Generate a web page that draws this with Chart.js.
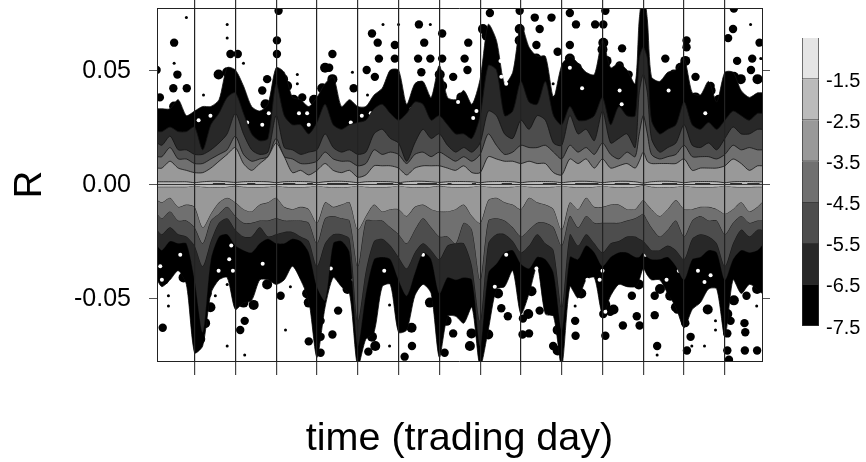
<!DOCTYPE html>
<html>
<head>
<meta charset="utf-8">
<script src="https://cdn.jsdelivr.net/npm/chart.js@4"></script>
<style>
  body { margin: 0; background: #fff; }
  #wrap { position: relative; width: 866px; height: 462px; overflow: hidden; }
  #plot { position: absolute; left: 0; top: 0; }
  #bar { position: absolute; left: 780px; top: 25px; }
</style>
</head>
<body>
<div id="wrap">
  <canvas id="plot" width="866" height="462"></canvas>
  <canvas id="bar" width="86" height="315"></canvas>
</div>
<script>
const days = [0.08,0.2,0.4,0.6,0.8,
  1,1.2,1.4,1.6,1.8, 2,2.2,2.4,2.6,2.8, 3,3.2,3.4,3.6,3.8, 4,4.2,4.4,4.6,4.8,
  5,5.2,5.4,5.6,5.8, 6,6.2,6.4,6.6,6.8, 7,7.2,7.4,7.6,7.8, 8,8.2,8.4,8.6,8.8,
  9,9.2,9.4,9.6,9.8, 10,10.2,10.4,10.6,10.8, 11,11.2,11.4,11.6,11.8,11.9, 12,12.1,12.2,12.4,12.6,12.8,
  13,13.2,13.4,13.6,13.8, 14,14.2,14.4,14.6,14.8,14.91];
const dayTicks = [1,2,3,4,5,6,7,8,9,10,11,12,13,14];
const rTicks = [-0.05,0,0.05];
const levelTicks = [-7.5,-6.5,-5.5,-4.5,-3.5,-2.5,-1.5];

// contour edges, R x 1000, one row per trading day
const top75 = [33,33,33,37,30, 32,34,34,37,51, 50,43,34,32,35, 51,49,38,37,34, 38,44,47,34,37,
  34,34,39,42,50, 50,35,44,45,38, 52,38,37,41,35, 46,70,63,44,49,
  70,60,56,56,38, 52,56,53,49,48, 63,51,53,50,44,72, 85,72,47,45,49,50,
  55,40,39,45,36, 49,49,41,38,40,40];
const bot75 = [42,45,42,38,44, 74,71,48,42,41, 55,52,51,42,42, 44,42,36,42,51, 76,54,41,45,48,
  80,68,65,45,44, 65,64,49,44,48, 76,58,58,61,54, 80,64,46,45,38,
  57,48,36,57,58, 80,45,50,42,41, 57,49,44,45,45,42, 37,40,42,42,48,54,
  63,55,52,46,46, 67,42,48,44,46,48];
const top65 = [23,23,25,23,23, 25,15,26,31,38, 40,31,22,19,20, 44,30,26,26,22, 27,35,26,24,26,
  27,28,33,35,31, 28,31,36,35,28, 30,26,22,22,20, 30,52,50,30,32,
  45,36,35,45,30, 26,34,28,28,30, 38,26,34,30,30,55, 60,55,28,22,24,26,
  36,26,24,27,24, 28,32,30,28,31,31];
const bot65 = [27,29,25,26,26, 42,65,33,23,22, 27,29,30,26,24, 26,26,24,25,30, 45,51,26,25,30,
  71,48,33,32,33, 42,49,39,30,33, 48,41,42,41,42, 71,39,35,30,29,
  35,37,32,33,39, 64,32,33,27,30, 36,32,30,30,32,32, 30,32,33,33,32,36,
  42,33,32,29,30, 42,33,29,30,29,27];
const top55 = [18,17,21,15,15, 13,13,15,18,22, 31,22,15,13,14, 30,16,15,13,14, 15,22,16,14,15,
  13,14,22,24,20, 18,10,18,24,20, 22,17,14,16,14, 18,32,30,22,20,
  28,24,30,28,18, 17,30,22,24,19, 32,18,20,22,16,40, 48,40,20,14,16,18,
  26,17,16,18,15, 20,25,22,22,24,24];
const bot55 = [20,22,19,22,23, 27,36,25,17,15, 20,23,23,19,23, 22,21,21,23,25, 36,26,22,22,24,
  60,38,25,24,27, 32,37,30,26,29, 33,27,26,26,36, 60,26,22,22,25,
  30,27,22,26,29, 54,22,27,22,26, 30,26,25,23,23,24, 25,27,29,29,27,29,
  33,24,22,23,26, 36,26,20,23,20,20];
const top45 = [12,12,16,11,11, 9,9,11,13,15, 21,13,10,11,12, 20,12,11,9,9, 10,14,11,10,10,
  8,9,15,13,14, 13,9,13,14,12, 14,12,10,12,10, 13,22,17,13,14,
  17,16,16,17,14, 11,17,14,16,13, 18,13,11,14,12,22, 30,22,13,11,12,13,
  17,12,12,12,11, 13,17,15,16,15,15];
const bot45 = [13,15,12,16,16, 19,26,16,13,10, 14,17,17,16,16, 15,16,16,16,17, 26,15,14,15,16,
  36,16,16,16,19, 22,26,20,15,19, 23,23,26,17,20, 42,16,15,16,19,
  23,20,17,17,19, 27,14,19,14,17, 17,17,17,16,15,14, 13,16,19,23,20,16,
  23,16,14,16,16, 22,17,14,17,16,16];
const top35 = [7,7,10,7,6, 5,5,7,10,13, 16,9,6,9,12, 18,12,5,6,4, 6,9,6,5,6,
  3,4,8,8,8, 7,4,7,8,8, 8,7,6,8,5, 5,12,11,10,10,
  9,10,9,9,5, 4,11,9,11,7, 11,7,8,9,7,10, 14,10,9,9,9,9,
  11,6,7,7,7, 8,11,9,6,8,8];
const bot35 = [7,8,6,10,9, 10,19,13,8,6, 8,11,12,9,8, 6,10,11,10,11, 17,8,10,9,8,
  20,14,9,12,11, 11,14,10,9,11, 12,12,11,9,14, 17,7,6,8,9,
  11,6,8,9,11, 20,8,11,6,10, 10,9,9,11,11,9, 7,9,11,14,11,7,
  11,11,10,10,11, 13,11,8,12,10,8];
const top25 = [1,1,1,1,1, 0.6,1,1.2,1.2,1, 0.7,1,1.1,1.1,1, 0.6,1,1.1,1.1,1, 0.6,1,1.2,1.2,1,
  0.6,1,1.1,1.1,1, 0.6,1,1.2,1.2,1, 0.7,1,1.1,1.1,1, 0.6,1,1.1,1.1,1,
  0.6,1,1.1,1.1,1, 0.6,1,1.2,1.2,1, 0.6,1,1.2,1.2,1,0.7, 0.4,0.7,1,1.2,1.2,1,
  0.6,1,1.1,1.1,1, 0.6,1,1.1,1.1,1,1];
const bot25 = [1.2,1.2,1.2,1.2,1.2, 0.7,1.2,1.4,1.4,1.2, 0.8,1.2,1.3,1.3,1.2, 0.7,1.2,1.3,1.3,1.2, 0.7,1.2,1.4,1.4,1.2,
  0.7,1.2,1.3,1.3,1.2, 0.7,1.2,1.4,1.4,1.2, 0.8,1.2,1.3,1.3,1.2, 0.7,1.2,1.3,1.3,1.2,
  0.7,1.2,1.3,1.3,1.2, 0.7,1.2,1.4,1.4,1.2, 0.7,1.2,1.4,1.4,1.2,0.8, 0.5,0.8,1.2,1.4,1.4,1.2,
  0.7,1.2,1.3,1.3,1.2, 0.7,1.2,1.3,1.3,1.2,1.2];

const dashFrom = [1.45,2.29,3.17,3.76,4.25,5.47,6,6.46,7.2,7.8,8.53,9.54,10.33,11.3,12.46,13.27,14.13,14.55];
const dashTo = [1.75,2.49,3.47,3.9,4.77,5.87,6.1,6.94,7.3,7.9,8.78,9.88,10.9,11.66,12.83,13.64,14.42,14.85];

// black islands out in the white
const bigDays = [0.5,0.58,0.48,0.81,0.15,0.07,1.88,2.06,2.78,2.66,3.02,3.02,3.06,3.64,4.38,4.3,4.9,
  5.35,5.49,5.91,5.52,5.91,5.22,5.42,6.5,6.63,6.48,6.78,6.56,7.07,7.07,7.34,7.71,7.62,7.69,8.24,8.97,9.34,9.75,9.46,9.38,9.9,
  10.2,10.35,10.82,11.02,11.07,10.2,11.48,11.42,11.64,12.54,13.06,13.06,13.28,13.65,14.2,14.08,14.22,14.85,14.67,14.3,14.64,
  0.22,2.23,2.12,3.11,3.8,4.38,4.52,4.09,4.09,4.09,6.33,6.15,7.34,9.79,9.04,9.05,8.52,8.68,9.2,9.46,7.13,5.26,
  10.33,10.34,11.07,11.5,11.91,11.84,11.72,12.28,12.34,11.19,11.02,12.83,12.28,13.07,13.16,13.03,14.48,14.5,14.49,14.79,14.06,14.1,14.53,14.06,14.14];
const bigR = [62,48,42,42,38,50,57,57,46,41,63,57,76,38,57,51,42,
  66,62,61,55,55,50,47,70,62,55,55,49,66,55,47,62,55,50,75,76,73,73,68,61,58,
  75,70,70,70,76,61,59.5,52,48,55,63,60,47,43,68,64,77,62,55,54,50,
  -63,-60,-64,-49,-69,-66,-55.5,-60,-67,-74,-71,-75.7,-65.5,-71,-66,-59,-54.5,-58,-65.5,-55.5,-74,-73.5,
  -60,-66.5,-66.5,-62,-62,-58,-49,-49,-71,-56,-57,-55,-57.5,-73,-67,-61,-61,-65,-73,-73,-73,-77,-49,-65.5,-60];
const smallDays = [0.8,0.5,1.8,1.8,1.22,2.2,3.52,3.52,4.87,5.62,6,6.78,5.24,14.63,14.88,
  0.36,0.36,1.8,1.51,1.8,2.23,3.23,3.35,5.78,5.78,10.33,12.34,13.5,13.77,13.77,13.19,14.78,9.79];
const smallR = [73,53,70,64,39,53,48,44,49,70,70,70,39,70,55,
  -49,-53.5,-44,-49,-71,-75,-64,-45,-53,-71,-53.5,-75,-71,-60,-64,-71,-53.5,44];

// lumps along the black edge
const lumpDays = [0.5,1.59,1.8,1.96,2.12,2.74,3.17,3.27,3.43,3.93,4.2,4.38,4.13,4.38,
  5.87,5.83,6,6.52,7.01,7.07,7.54,8.07,8.16,8.97,8.97,9.38,9.5,9.58,9.87,
  10.2,10.12,10.37,10.53,10.78,11,11.1,11.02,11.64,11.52,12.42,12.75,12.91,13.03,13.28,13.65,13.85,14.22,14.39,14.8,
  0.25,0.73,1.14,1.26,1.39,1.3,2.2,2.45,2.78,3.02,3.76,3.8,4.75,
  5.3,5.35,5.43,6.15,6.32,6.11,6.77,7.18,7.79,7.75,8.2,8.44,9.18,9.26,9.9,9.9,
  10.48,11.07,11.27,11.89,12.41,12.66,12.8,13.11,13.58,14.06,14.22,14.79];
const lumpR = [34,48,49,46,38,35,46,43,37,37,51,46,42,38,
  48,44,40,43,48,43,38,68,65,68,63,55,51,43,37,
  55,52,51,45,44,59,54,62,41,46,40,48,51,54,38,41,37,47,46,46,
  -42,-41,-68,-61,-54,-48,-52,-53,-44,-41,-48,-52,-46,
  -60,-67,-71,-57,-63,-53,-52,-60,-65.5,-71,-66,-48,-57,-47,-64,-73,
  -48,-53,-55,-44,-46,-49,-54,-49,-55,-57,-51,-46];

// white holes left in the black band
const holeDays = [1.1,1.39,2.29,2.66,2.82,3.56,3.76,3.8,4.83,0.65,0.16,0.2,1.9,1.85,1.59,1.94,2.67,4.34,4.9,
  5.1,5.32,6.32,7.46,7.83,7.91,8.5,8.6,8.52,8.64,6.6,6.6,5.65,8.36,8.64,9.48,9.56,9.38,
  10.2,10.5,11.42,13.52,12.62,11.47,10.63,11,10.93,12.05,12.57,12.83,12.87,13.34,13.65,13.5,11.07];
const holeR = [28,30,27,26,31,31,31,26,27,-31,-36,-42,-27,-33,-38,-38,-35,-37,-42,
  30,31,33,36,29,32,54,49,47,44,-27,-31,-38,-45,-31,-31,-31,-37,
  51,42,41,31,41,35,-42,-38,-42,-31,-42,-33,-38,-38,-40,-43,-56];

const bandColors = ['#000000','#282828','#4d4d4d','#707070','#999999','#bbbbbb','#e5e5e5'];

const toPoints = (xs, ys) => xs.map((x, i) => ({ x: x, y: ys[i] / 1000 }));

function band(upper, lower, color) {
  return [
    { data: toPoints(days, upper), backgroundColor: color, fill: '+1' },
    { data: toPoints(days, lower.map(v => -v)), fill: false }
  ];
}

function blobs(xs, ys, color, radius) {
  return { data: toPoints(xs, ys), showLine: false, pointRadius: radius, pointBackgroundColor: color, pointBorderWidth: 0 };
}

// tick labels should not push the plot area in
function noPadding(axis) {
  axis.paddingTop = 0;
  axis.paddingBottom = 0;
  axis.paddingLeft = 0;
  axis.paddingRight = 0;
}

const dashPoints = dashFrom.flatMap((from, i) => [{ x: from, y: 0 }, { x: dashTo[i], y: 0 }, { x: dashTo[i], y: null }]);

// first dataset ends up on top
const datasets = [
  { data: dashPoints, borderColor: '#000', borderWidth: 1.8, spanGaps: false, fill: false },
  ...band(top25, bot25, bandColors[5]),
  ...band(top35, bot35, bandColors[4]),
  ...band(top45, bot45, bandColors[3]),
  ...band(top55, bot55, bandColors[2]),
  ...band(top65, bot65, bandColors[1]),
  blobs(holeDays, holeR, '#fff', 2),
  ...band(top75, bot75, bandColors[0]),
  blobs(lumpDays, lumpR, '#000', 5),
  blobs(bigDays, bigR, '#000', 4.2),
  blobs(smallDays, smallR, '#000', 1.5)
].map(d => Object.assign({ borderColor: '#111', borderWidth: 0.8, pointRadius: 0, tension: 0.25 }, d));

const frame = { color: '#222', width: 1, z: 2 };

new Chart(document.getElementById('plot'), {
  type: 'line',
  data: { datasets: datasets },
  options: {
    responsive: false,
    animation: false,
    plugins: { legend: { display: false }, tooltip: { enabled: false } },
    layout: { padding: 0 },
    scales: {
      x: {
        type: 'linear', min: 0.08, max: 14.91,
        afterBuildTicks: axis => { axis.ticks = dayTicks.map(v => ({ value: v })); },
        afterFit: axis => { axis.height = 101; noPadding(axis); },
        ticks: { display: false },
        grid: { color: '#222', lineWidth: 1.2, tickLength: 14, tickColor: '#444', z: 1 },
        border: frame,
        title: { display: true, text: 'time (trading day)', color: '#000', padding: { top: 0, bottom: -1 },
          font: { family: 'Liberation Sans', size: 39.5, weight: 'normal' } }
      },
      xTop: {
        type: 'linear', position: 'top', min: 0.08, max: 14.91,
        afterBuildTicks: axis => { axis.ticks = dayTicks.map(v => ({ value: v })); },
        afterFit: axis => { axis.height = 8; noPadding(axis); },
        ticks: { display: false },
        grid: { drawOnChartArea: false, tickLength: 8, tickColor: '#333', lineWidth: 1.2, z: 1 },
        border: frame
      },
      y: {
        min: -0.0776, max: 0.0772,
        afterBuildTicks: axis => { axis.ticks = rTicks.map(v => ({ value: v })); },
        afterFit: axis => { axis.width = 157; noPadding(axis); },
        ticks: { color: '#000', padding: 18, labelOffset: 1.5, font: { family: 'Liberation Sans', size: 25 },
          callback: v => v.toFixed(2) },
        grid: { tickLength: 8, tickColor: '#555', lineWidth: 1, z: 1,
          color: ctx => ctx.tick && ctx.tick.value === 0 ? '#333' : 'transparent' },
        border: frame,
        title: { display: true, text: 'R', color: '#000', padding: { top: 8, bottom: 0 },
          font: { family: 'Liberation Sans', size: 38, weight: 'normal' } }
      },
      yRight: {
        position: 'right', min: -0.0776, max: 0.0772,
        afterBuildTicks: axis => { axis.ticks = rTicks.map(v => ({ value: v })); },
        afterFit: axis => { axis.width = 104; noPadding(axis); },
        ticks: { display: false },
        grid: { drawOnChartArea: false, tickLength: 8, tickColor: '#555', z: 1 },
        border: frame
      }
    }
  }
});

// colour key
const keyRanges = [[-7.5,-6.5],[-6.5,-5.5],[-5.5,-4.5],[-4.5,-3.5],[-3.5,-2.5],[-2.5,-1.5],[-1.5,-0.5]];

new Chart(document.getElementById('bar'), {
  type: 'bar',
  data: {
    labels: ['level'],
    datasets: keyRanges.map((range, i) => ({
      data: [range],
      backgroundColor: bandColors[i],
      borderColor: '#333',
      borderWidth: 1,
      barPercentage: 1,
      categoryPercentage: 1
    }))
  },
  options: {
    responsive: false,
    animation: false,
    plugins: { legend: { display: false }, tooltip: { enabled: false } },
    layout: { padding: { left: 22, top: 13, bottom: 14, right: 0 } },
    scales: {
      x: { display: false, stacked: true },
      y: {
        position: 'right', min: -7.5, max: -0.5, stacked: false,
        afterBuildTicks: axis => { axis.ticks = levelTicks.map(v => ({ value: v })); },
        afterFit: axis => { axis.width = 47; noPadding(axis); },
        ticks: { color: '#000', padding: 7, labelOffset: 2, font: { family: 'Liberation Sans', size: 20 },
          callback: v => v.toFixed(1) },
        grid: { display: false, drawTicks: false },
        border: { display: false }
      }
    }
  }
});
</script>
</body>
</html>
